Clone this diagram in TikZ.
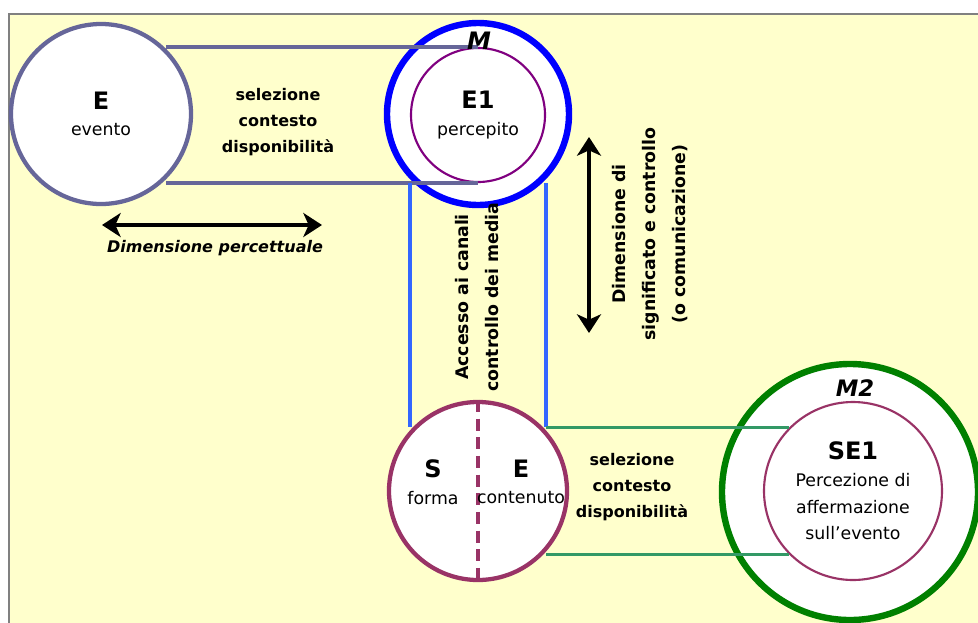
\documentclass[tikz,border=0pt]{standalone}
\usepackage{fontspec}
\setmainfont{DejaVu Sans}
\usetikzlibrary{arrows.meta}
\definecolor{slate}{HTML}{666699}
\definecolor{mblue}{HTML}{0000FF}
\definecolor{pipeblue}{HTML}{3366FF}
\definecolor{pipegreen}{HTML}{339966}
\definecolor{plum}{HTML}{993366}
\definecolor{mviolet}{HTML}{800080}
\definecolor{mgreen}{HTML}{008000}
\definecolor{paper}{HTML}{FFFFCC}
\newcommand\headfont{\fontsize{18}{22}\selectfont\bfseries}
\tikzset{
  ring/.style={circle,fill=white,inner sep=0pt,align=center,
    font=\fontsize{13}{20}\selectfont},
  pipe/.style={line width=2.4pt},
  dimarrow/.style={line width=2.6pt,
    {Stealth[length=14pt,width=18pt,inset=4pt]}-{Stealth[length=14pt,width=18pt,inset=4pt]}},
  lbl/.style={font=\fontsize{12}{19.5}\selectfont\bfseries,align=center},
  side/.style={font=\fontsize{13}{22.5}\selectfont\bfseries,align=center,rotate=90},
  tag/.style={font=\fontsize{17}{18}\selectfont\bfseries\itshape}
}
\begin{document}
\begin{tikzpicture}[x=0.75pt,y=-0.75pt]
  \useasboundingbox (0,0) rectangle (978,622);
  \clip (0,0) rectangle (978,622);
  \draw[gray,line width=1pt,fill=paper] (9,14) rectangle (990,640);
  % circles
  \node[ring,draw=mgreen,line width=4.8pt,minimum size=192pt] (M2) at (850,492) {};
  \node[ring,draw=mblue,line width=4.8pt,minimum size=136.5pt] (M) at (478,114) {};
  \node[ring,draw=mviolet,line width=1.6pt,minimum size=100.5pt] (Mi) at (478,115)
    {{\headfont E1}\\percepito};
  \node[ring,draw=slate,line width=3.2pt,minimum size=135pt] (E) at (101,114)
    {{\headfont E}\\evento};
  \node[ring,draw=plum,line width=3.2pt,minimum size=133.5pt] (SE) at (478,491) {};
  \node[ring,draw=plum,line width=1.6pt,minimum size=133.5pt] (SE1) at (853,491)
    {{\headfont SE1}\\Percezione di\\affermazione\\sull’evento};
  % pipes
  \draw[pipe,slate] (E.45 |- Mi.north) -- (Mi.north);
  \draw[pipe,slate] (E.-45 |- Mi.south) -- (Mi.south);
  \draw[pipe,pipeblue] (Mi.west |- Mi.south) -- (Mi.west |- SE1.north west);
  \draw[pipe,pipeblue] (Mi.east |- Mi.south) -- (Mi.east |- SE1.north west);
  \draw[pipe,pipegreen] (Mi.east |- SE1.north west) -- (SE1.north west);
  \draw[pipe,pipegreen] (Mi.east |- SE1.south west) -- (SE1.south west);
  \draw[plum,line width=3pt,dash pattern=on 9pt off 5pt] (SE.north) -- (SE.south);
  % labels
  \node[tag,font=\fontsize{18}{18}\selectfont\bfseries\itshape] (Mt) at (479,41) {M};
  \node[tag] (M2t) at (855,388) {M2};
  \node[ring,fill=none] (S) at (433,482) {{\headfont S}\\forma};
  \node[ring,fill=none] (Ec) at (521,482) {{\headfont E}\\contenuto};
  \node[lbl] (sel1) at (278,122) {selezione\\contesto\\disponibilità};
  \node[lbl] (sel2) at (632,487) {selezione\\contesto\\disponibilità};
  \node[side] (acc) at (477,297) {Accesso ai canali\\controllo dei media};
  \node[side] (sig) at (650,234) {Dimensione di\\significato e controllo\\(o comunicazione)};
  % dimensions
  \coordinate (pl) at (102,225);
  \coordinate (pr) at (322,225);
  \draw[dimarrow] (pl) -- (pr);
  \node[tag,font=\fontsize{12}{14}\selectfont\bfseries\itshape] (perc) at (215,248)
    {Dimensione percettuale};
  \coordinate (st) at (589,137);
  \coordinate (sb) at (589,333);
  \draw[dimarrow] (st) -- (sb);
\end{tikzpicture}
\end{document}
